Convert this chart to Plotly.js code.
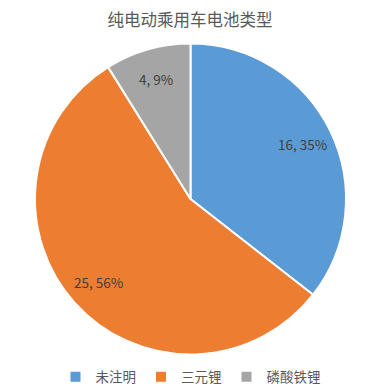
<!DOCTYPE html>
<html>
<head>
<meta charset="utf-8">
<script src="https://cdn.plot.ly/plotly-3.0.1.min.js"></script>
<style>html,body{margin:0;padding:0;background:#fff;}#chart{width:380px;height:392px;}</style>
</head>
<body>
<div id="chart"></div>
<script>
const categories = ['未注明', '三元锂', '磷酸铁锂'];
const values = [16, 25, 4];
const percentLabels = ['35%', '56%', '9%'];
const colors = ['#5B9BD5', '#ED7D31', '#A5A5A5'];

const font = '"Noto Sans CJK SC", "Open Sans", sans-serif';
const W = 380, H = 392;
const margin = {l: 35, r: 34, t: 43, b: 37, autoexpand: false};
const plotW = W - margin.l - margin.r;
const plotH = H - margin.t - margin.b;
const radiusPx = Math.min(plotW, plotH) / 2;
const labelFrac = 0.8;

// data label annotations placed along each slice's bisector
const total = values.reduce((a, b) => a + b, 0);
let cum = 0;
const annotations = values.map((v, i) => {
  const mid = (cum + v / 2) / total * 2 * Math.PI;
  cum += v;
  return {
    xref: 'paper', yref: 'paper',
    x: 0.5 + labelFrac * radiusPx * Math.sin(mid) / plotW,
    y: 0.5 + labelFrac * radiusPx * Math.cos(mid) / plotH,
    text: v + ', ' + percentLabels[i],
    showarrow: false,
    xanchor: 'center', yanchor: 'middle',
    font: {family: font, size: 13.5, color: '#404040'}
  };
});

Plotly.newPlot('chart', [{
  type: 'pie',
  labels: categories,
  values: values,
  textinfo: 'none',
  marker: {colors: colors, line: {color: '#ffffff', width: 2}},
  sort: false,
  direction: 'clockwise',
  rotation: 0,
  hoverinfo: 'none'
}], {
  width: W,
  height: H,
  margin: margin,
  paper_bgcolor: '#ffffff',
  title: {text: '纯电动乘用车电池类型', font: {family: font, size: 16.5, color: '#595959'}, x: 0.5, xanchor: 'center', y: 0.948, yanchor: 'middle'},
  showlegend: true,
  legend: {orientation: 'h', x: 0.5, xanchor: 'center', y: -0.0705, yanchor: 'middle', tracegroupgap: 0, font: {family: font, size: 13.5, color: '#595959'}},
  annotations: annotations
}, {displayModeBar: false, staticPlot: true});
</script>
</body>
</html>
